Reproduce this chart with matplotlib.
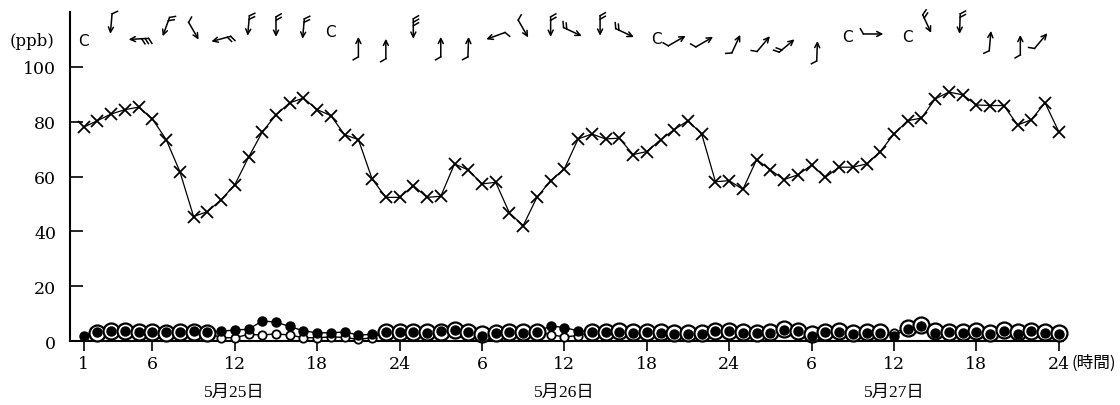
import numpy as np
import matplotlib
matplotlib.use('Agg')
import matplotlib.pyplot as plt
import matplotlib.transforms as mtransforms

# ---------------- data ----------------
hours = np.arange(1, 73)

ozone = [78, 80.4, 82.8, 84.4, 85.3, 81, 73.5, 61.8, 45.4, 47.2, 51.5, 57,
         67, 76.2, 82.5, 86.9, 88.6, 84.4, 82.2, 75.2, 73.5, 59.1, 52.4, 52.4,
         56.7, 52.4, 52.8, 64.6, 62.4, 57.3, 57.9, 46.7, 42.1, 52.4, 58.5, 62.8,
         73.7, 75.5, 73.7, 74, 68, 69.1, 73.4, 77.1, 80.4, 75.5, 58.1, 58.5,
         55.3, 66.2, 62.4, 58.9, 60.6, 64.2, 59.7, 63.4, 63.4, 64.6, 69.1, 75.5,
         80.4, 81.3, 88.3, 90.8, 89.8, 86.1, 85.9, 85.9, 78.8, 80.7, 86.9, 76.4]

filled = [1.8, 3.3, 3.6, 3.6, 3.4, 3.3, 3.3, 3.4, 3.5, 3.2, 3.6, 4.0,
          4.3, 7.3, 6.9, 5.3, 3.7, 3.0, 3.0, 3.3, 2.2, 2.4, 3.3, 3.3,
          3.3, 3.0, 3.6, 4.2, 3.4, 1.8, 3.0, 3.3, 3.0, 3.3, 5.5, 4.9,
          3.7, 3.3, 3.4, 3.4, 3.0, 3.2, 2.8, 2.6, 2.6, 2.6, 3.6, 3.6,
          3.0, 3.0, 3.0, 4.2, 3.5, 1.8, 3.2, 3.4, 2.4, 2.8, 2.8, 2.0,
          4.4, 5.4, 3.0, 3.2, 3.0, 3.4, 2.4, 3.8, 2.4, 3.6, 2.8, 2.4]

open_ = [np.nan, 3.0, 3.5, 3.5, 3.2, 3.2, 3.0, 3.3, 3.3, 3.0, 1.2, 1.2,
         2.4, 2.2, 2.6, 2.2, 1.2, 1.2, 1.5, 1.3, 0.6, 1.2, 3.2, 3.3,
         3.3, 3.2, 3.4, 4.0, 3.4, 2.6, 3.0, 3.2, 3.2, 3.4, 2.3, 1.5,
         2.0, 3.3, 3.4, 3.6, 3.3, 3.4, 3.2, 3.0, 3.0, 3.0, 3.8, 3.8,
         3.2, 3.0, 3.3, 4.4, 3.6, 2.6, 3.4, 3.6, 2.8, 3.2, 3.2, 3.0,
         4.8, 5.8, 3.6, 3.4, 3.2, 3.6, 3.0, 4.0, 3.2, 3.8, 3.2, 2.8]

xtick_pos = [1, 6, 12, 18, 24, 30, 36, 42, 48, 54, 60, 66, 72]
xtick_labels = ['1', '6', '12', '18', '24', '6', '12', '18', '24',
                '6', '12', '18', '24']
ytick_pos = [0, 20, 40, 60, 80, 100]
date_labels = ['5月25日', '5月26日', '5月27日']
date_pos = [12, 36, 60]
unit_y = '(ppb)'
unit_x = '(時間)'

# wind symbols: hour position, height (ppb scale), arrow direction (deg, None=calm), feathers
wind_t = [1, 3, 5, 7, 9, 11, 13, 15, 17, 19, 21, 23, 25, 27, 29, 31, 33, 35,
          36.6, 38.6, 40.4, 42.7, 44.2, 46.2, 48.5, 50.5, 52.2, 54.4, 56.6,
          58.5, 61, 62.4, 64.8, 67, 69.2, 70.7]
wind_y = [109.5, 115.7, 110.2, 114.6, 113.1, 110.2, 115, 114.6, 113.9, 112.8,
          107.3, 106.6, 113.9, 107.3, 107.3, 111.3, 113.9, 114.6, 112.8, 115,
          112.4, 110.2, 109.5, 109.1, 108.4, 108.4, 107.7, 105.8, 110.9, 112,
          110.9, 115.7, 115.7, 109.5, 108, 109.5]
wind_dir = [None, 265, 183, 250, 300, 195, 265, 270, 265, None, 90, 90, 270,
            90, 88, 200, 300, 270, 335, 270, 335, None, 30, 30, 65, 50, 40,
            88, None, 0, None, 295, 268, 85, 90, 50]
wind_feathers = [0, 1, 3, 2, 1, 2, 2, 2, 2, 0, 1, 1, 3, 1, 1, 1, 1, 2, 2, 2,
                 2, 0, 1, 1, 1, 1, 2, 1, 0, 1, 0, 2, 2, 1, 1, 1]

# ---------------- figure ----------------
fig = plt.figure(figsize=(11.2, 4.06), dpi=100)
ax = fig.add_axes([0.0625, 0.1576, 0.949 - 0.0625, 0.8103])
ax.set_xlim(0, 72.3)
ax.set_ylim(0, 120)

num_font = ['DejaVu Serif', 'Noto Sans CJK JP']
date_font = ['Liberation Serif', 'Noto Sans CJK JP']

# ozone (x markers)
ax.plot(hours, ozone, color='black', lw=0.9, marker='x', ms=9, mew=1.3,
        clip_on=False, zorder=3)

# open circles and filled circles
f_arr = np.array(filled, dtype=float)
o_arr = np.array(open_, dtype=float)
ax.plot(hours, o_arr, color='black', lw=1.0, zorder=2, clip_on=False)
ax.plot(hours, f_arr, color='black', lw=1.0, zorder=2, clip_on=False)
ring = np.abs(f_arr - o_arr) < 1.0
small = ~ring & ~np.isnan(o_arr)
ax.plot(hours[ring], o_arr[ring], ls='none', marker='o', ms=11.5,
        mfc='white', mec='black', mew=1.6, zorder=4, clip_on=False)
ax.plot(hours[small], o_arr[small], ls='none', marker='o', ms=6,
        mfc='white', mec='black', mew=1.3, zorder=4, clip_on=False)
ax.plot(hours, f_arr, ls='none', marker='o', ms=6.5, mfc='black',
        mec='black', zorder=5, clip_on=False)

# wind symbols
L = 0.2  # inches
for t, yv, d, nf in zip(wind_t, wind_y, wind_dir, wind_feathers):
    if d is None:
        ax.text(t, yv, 'C', ha='center', va='center', fontsize=11,
                family='DejaVu Sans', clip_on=False)
        continue
    trans = fig.dpi_scale_trans + mtransforms.ScaledTranslation(t, yv, ax.transData)
    a = np.deg2rad(d)
    u = np.array([np.cos(a), np.sin(a)])
    head = u * L / 2
    tail = -u * L / 2
    ax.annotate('', xy=head, xycoords=trans, xytext=tail, textcoords=trans,
                arrowprops=dict(arrowstyle='->', lw=1.1, color='black',
                                shrinkA=0, shrinkB=0,
                                mutation_scale=9), annotation_clip=False)
    ang = a + np.deg2rad(120)
    fv = np.array([np.cos(ang), np.sin(ang)]) * 0.06
    for k in range(nf):
        p0 = tail + u * 0.035 * k
        p1 = p0 + fv
        ax.plot([p0[0], p1[0]], [p0[1], p1[1]], color='black', lw=1.1,
                transform=trans, clip_on=False)

# axes styling
for s in ['top', 'right']:
    ax.spines[s].set_visible(False)
ax.spines['left'].set_linewidth(1.5)
ax.spines['bottom'].set_linewidth(1.5)

ax.set_xticks(xtick_pos)
ax.set_xticklabels(xtick_labels, family=num_font, fontsize=12.5)
ax.set_yticks(ytick_pos)
ax.set_yticklabels([str(v) for v in ytick_pos], family=num_font, fontsize=12.5)
ax.tick_params(axis='x', direction='out', length=7, width=1.2, pad=3)
ax.tick_params(axis='y', direction='in', length=9, width=1.2, pad=10)

ax.text(-0.038, 0.912, unit_y, transform=ax.transAxes, ha='center',
        va='center', family=num_font, fontsize=12)
ax.annotate(unit_x, xy=(72, 0), xycoords='data', xytext=(9, -15),
            textcoords='offset points', ha='left', va='center',
            family=['Noto Sans CJK JP', 'DejaVu Sans'], fontsize=12,
            annotation_clip=False)

for p, lab in zip(date_pos, date_labels):
    ax.annotate(lab, xy=(p, 0), xycoords='data', xytext=(0, -36.5),
                textcoords='offset points', ha='center', va='center',
                family=date_font, fontsize=12.5, annotation_clip=False)

fig.savefig('out.png', dpi=100)
